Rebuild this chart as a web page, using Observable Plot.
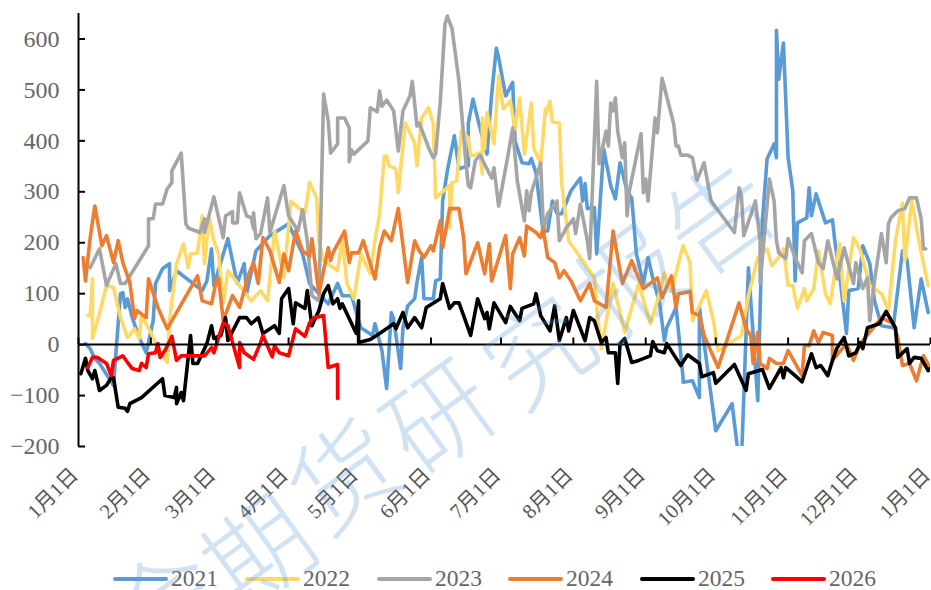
<!DOCTYPE html>
<html><head><meta charset="utf-8">
<script src="https://cdn.jsdelivr.net/npm/d3@7"></script>
<script src="https://cdn.jsdelivr.net/npm/@observablehq/plot@0.6"></script>
<style>
html,body{margin:0;padding:0;background:#fff;width:931px;height:590px;overflow:hidden}
#wrap{position:relative;width:931px;height:590px;font-family:"Liberation Serif","Noto Sans CJK SC",serif}
#chart svg{display:block}
#legend{position:absolute;left:0;top:563px;width:931px;height:27px}
.item{position:absolute;top:0;height:27px;line-height:31px;font-size:23.5px;color:#666}
.sw{position:absolute;top:14px;height:4px;border-radius:2px}
#wm{position:absolute;left:0;top:0;pointer-events:none}
</style></head><body>
<div id="wrap"><div id="chart"></div><div id="legend"></div><svg id="wm" width="931" height="590"></svg></div>
<script>
const years=["2021","2022","2023","2024","2025","2026"];
const colors=["#5B9BD5","#FFD966","#A5A5A5","#ED7D31","#000000","#FF0000"];
const tickDays=[0,31,59,90,120,151,181,212,243,273,304,334,365];
const tickLabels=["1月1日","2月1日","3月1日","4月1日","5月1日","6月1日","7月1日","8月1日","9月1日","10月1日","11月1日","12月1日","1月1日"];
const yTicks=[-200,-100,0,100,200,300,400,500,600];

const days2021=[3,5,7,9,15,16,18,19,20,21,23,26,29,32,33,36,39,39,42,53,55,57,58,64,68,71,72,76,82,90,96,99,107,111,113,117,120,121,126,127,130,132,132,134,135,138,139,141,144,145,147,148,152,153,155,156,158,161,163,167,167,169,172,175,177,179,180,183,186,187,190,193,194,196,197,199,201,203,205,207,211,215,216,217,218,221,222,225,228,230,232,235,237,239,242,244,246,249,251,252,256,259,259,263,266,266,273,280,283,284,287,291,293,295,298,299,299,300,302,304,306,307,308,312,313,314,316,320,323,324,326,329,330,334,336,339,341,344,349,353,355,358,361,364];
const vals2021=[2,-8,-27,-37,-80,-18,100,102,73,90,53,14,-16,47,120,149,159,106,145,106,125,188,116,208,120,159,100,184,214,237,178,120,80,120,96,96,47,33,18,41,-12,-86,-86,63,51,-47,33,76,90,122,171,90,90,125,129,282,341,410,345,351,435,482,425,374,492,582,563,488,515,400,357,355,365,337,298,223,223,282,257,257,302,327,282,316,267,269,178,384,312,286,357,302,288,178,120,171,131,80,8,33,73,-65,-74,-71,-104,73,-169,-116,-230,-230,151,-110,243,365,394,367,617,521,592,367,302,125,239,249,308,253,296,239,245,204,139,22,106,110,194,159,86,37,33,184,165,33,129,63];

const days2022=[4,5,6,6,9,12,15,18,21,24,26,27,31,34,38,39,42,45,47,48,51,53,54,56,58,60,62,64,69,74,78,81,84,88,91,97,99,102,103,105,111,113,115,118,121,125,127,129,131,132,133,136,137,140,144,145,147,150,152,153,159,159,160,162,164,167,168,172,173,173,174,175,178,180,182,185,187,189,191,194,195,198,200,200,202,203,206,207,210,214,221,222,224,229,234,237,240,245,248,251,254,259,262,263,269,272,274,276,284,287,291,295,297,300,302,304,306,308,311,312,315,317,320,322,326,328,332,335,339,344,347,350,353,354,357,360,364];
const vals2022=[57,57,129,12,61,116,112,53,14,31,12,57,24,-8,-35,47,159,198,151,178,180,253,159,249,204,178,80,145,116,86,106,86,223,131,282,257,318,288,204,165,145,208,120,90,178,139,204,257,370,370,351,345,298,435,396,351,445,465,433,288,312,229,318,321,419,406,370,376,335,445,384,455,394,527,463,478,423,484,374,474,386,355,463,449,478,437,435,316,204,178,131,73,-8,120,24,73,120,41,86,141,106,194,161,47,106,47,-12,-6,18,96,171,188,155,171,188,116,116,71,110,86,110,184,100,80,198,86,210,184,116,100,67,204,278,165,282,204,116];

const days2023=[5,9,12,16,18,20,30,30,32,33,36,38,40,40,44,46,47,52,54,54,58,62,63,66,66,68,69,72,74,75,75,76,78,81,82,88,90,94,96,98,100,103,105,107,108,111,111,114,116,116,117,118,124,125,128,129,130,132,135,137,139,142,143,145,146,150,152,153,155,157,158,160,163,166,167,168,170,172,177,178,180,184,186,188,191,192,193,194,198,199,199,201,205,206,209,212,213,215,218,219,222,223,226,227,228,229,230,231,233,234,235,236,241,242,243,244,247,248,250,255,256,257,258,261,263,265,268,271,281,283,284,285,290,292,292,296,298,299,300,303,304,307,310,311,314,317,319,321,325,328,332,333,336,338,339,341,344,346,347,348,351,354,356,359,361,362,363];
const vals2023=[151,188,116,159,120,120,194,247,247,276,276,306,318,341,376,237,229,220,247,220,290,210,253,261,239,239,298,253,249,227,259,208,218,288,220,312,253,223,265,204,96,86,492,439,376,394,445,445,425,359,382,374,400,465,457,498,468,480,459,380,459,488,517,429,435,386,367,374,478,629,645,621,517,355,312,308,361,372,327,347,272,372,425,321,243,302,263,298,357,243,223,257,282,204,229,247,218,276,204,169,517,355,419,390,474,459,484,419,367,396,253,302,414,298,325,282,445,416,523,433,390,390,372,372,367,323,357,282,220,308,292,214,282,204,120,325,282,204,180,169,208,171,141,204,218,161,149,204,129,190,120,161,110,131,47,125,218,161,237,249,263,267,288,288,247,188,188];

const days2024=[2,3,5,7,10,12,15,17,19,21,22,24,25,29,30,34,38,51,53,57,59,60,62,66,69,73,75,77,79,82,86,88,90,93,96,99,100,103,107,108,109,114,116,117,120,122,127,129,131,134,137,141,144,146,148,151,152,155,156,159,163,165,166,171,174,176,177,183,185,186,189,191,192,196,198,199,201,204,206,208,211,215,219,221,226,229,233,237,239,242,248,250,254,256,257,262,263,266,268,274,283,286,288,289,291,292,295,296,299,302,304,310,311,313,315,317,319,323,323,329,332,335,344,349,351,353,356,359,362,365];
const vals2024=[171,125,210,272,194,214,161,204,161,135,122,51,67,53,129,73,31,135,86,80,125,131,47,96,73,139,161,120,210,184,122,178,145,223,184,174,208,100,190,165,180,223,161,180,180,204,129,190,223,204,267,122,204,184,171,194,184,243,190,267,267,210,139,200,139,198,125,214,110,178,210,174,233,220,210,229,171,161,131,145,125,86,120,86,73,223,120,165,141,110,131,92,135,73,100,104,63,57,18,-45,82,31,18,-37,24,-37,-47,-27,-37,-37,-12,-61,-2,-2,27,4,24,18,-31,2,-31,2,53,41,14,-41,-37,-71,-22,-47];

const days2025=[1,3,4,6,7,9,12,14,15,17,20,21,22,27,36,37,41,42,42,44,45,48,49,51,55,57,58,61,63,64,69,72,74,77,79,84,86,87,90,92,93,97,98,100,103,105,107,109,111,112,113,119,120,120,125,129,135,136,139,141,144,147,149,155,156,159,161,163,165,168,171,174,175,176,178,183,185,189,190,195,196,198,202,204,206,209,210,212,217,219,221,224,226,227,230,231,232,234,237,240,245,246,248,251,252,258,261,266,267,272,273,281,286,287,293,296,301,302,303,308,310,314,316,318,321,323,325,328,330,333,335,336,338,343,346,350,351,355,356,358,361,364,365];
const vals2025=[-57,-27,-51,-67,-51,-90,-80,-65,-65,-123,-125,-131,-116,-104,-67,-100,-104,-84,-116,-94,-110,18,-37,-37,2,37,12,18,53,8,53,53,41,53,22,37,22,90,110,41,82,71,106,37,67,100,116,80,90,71,80,22,86,4,10,22,41,31,63,33,53,33,73,90,120,71,82,82,57,18,90,51,63,31,82,43,75,47,71,80,100,57,27,76,8,53,27,67,8,53,47,4,14,-16,-16,-76,2,12,-35,-31,-22,6,-12,-16,2,-41,-20,-37,-63,-55,-76,-39,-90,-57,-49,-86,-45,-65,-45,-65,-73,-18,-45,-41,-61,-31,-6,14,-22,-16,4,-8,33,41,65,33,-25,-8,-37,-25,-27,-51,-47];

const days2026=[4,6,8,12,14,15,19,21,23,26,27,29,30,33,34,35,37,40,42,44,54,57,58,62,64,69,69,71,75,78,79,83,84,86,90,93,97,99,101,105,107,111,111];
const vals2026=[-45,-25,-25,-37,-61,-31,-22,-35,-47,-51,-37,-45,-18,-16,2,-25,-12,16,-31,-22,-22,-6,-16,43,37,-45,4,-16,-29,4,18,-24,-2,-16,-22,31,16,43,53,57,-45,-39,-106];

const allDays=[days2021,days2022,days2023,days2024,days2025,days2026];
const allVals=[vals2021,vals2022,vals2023,vals2024,vals2025,vals2026];
const tickInk="#000";
const textInk="#666";
const fontStack='"Liberation Serif","Noto Sans CJK SC",serif';

const lineMarks=years.map((yr,i)=>Plot.line(allDays[i].map((d,j)=>({d,v:allVals[i][j]})),{
  x:"d",y:"v",stroke:colors[i],strokeWidth:3.6,strokeLinejoin:"round",strokeLinecap:"round",clip:true
}));

const chart=Plot.plot({
  width:931,height:560,marginLeft:78,marginRight:1,marginTop:13,marginBottom:114,
  style:{fontFamily:fontStack,color:textInk,background:"#fff",overflow:"visible"},
  x:{domain:[0,365],range:[78,930]},
  y:{domain:[-200,650],range:[446,13]},
  marks:[
    ...lineMarks,
    Plot.ruleY([0],{stroke:tickInk,strokeWidth:2}),
    Plot.ruleX(tickDays,{y1:0,y2:13,stroke:tickInk,strokeWidth:2}),
    Plot.ruleX([0],{y1:-200,y2:650,stroke:tickInk,strokeWidth:2}),
    Plot.ruleY(yTicks,{x1:0,x2:3,stroke:tickInk,strokeWidth:2}),
    Plot.axisY({ticks:yTicks,tickSize:0,tickPadding:19,fill:textInk,label:null,fontSize:24}),
    Plot.axisX({ticks:tickDays,tickFormat:d=>tickLabels[tickDays.indexOf(d)],tickSize:0,tickPadding:25,dx:-4,tickRotate:-45,fill:"#555",label:null,fontSize:20.5,anchor:"bottom",style:{letterSpacing:"4px"}})
  ]
});
document.getElementById("chart").appendChild(chart);

const legendSwatchX=[113,245,377,508,640,771];
const legend=document.getElementById("legend");
years.forEach((yr,i)=>{
  const sw=document.createElement("div");sw.className="sw";
  sw.style.left=legendSwatchX[i]+"px";sw.style.width="55px";sw.style.background=colors[i];
  legend.appendChild(sw);
  const t=document.createElement("div");t.className="item";
  t.style.left=(legendSwatchX[i]+58)+"px";t.textContent=yr;
  legend.appendChild(t);
});

const wmChars=[["金",172,612],["期",265,560],["货",350,485],["研",445,425],["究",545,360],["报",635,290],["告",725,225]];
const wm=d3.select("#wm");
wmChars.forEach(([c,x,y])=>{
  wm.append("text").attr("x",x).attr("y",y).attr("text-anchor","middle").attr("dominant-baseline","middle")
    .attr("transform",`rotate(-36 ${x} ${y})`).attr("font-size",105).attr("font-family",'"Noto Sans CJK SC"').attr("font-weight",300)
    .attr("fill","#5B9BD5").attr("fill-opacity",0.28).text(c);
});
</script>
</body></html>
